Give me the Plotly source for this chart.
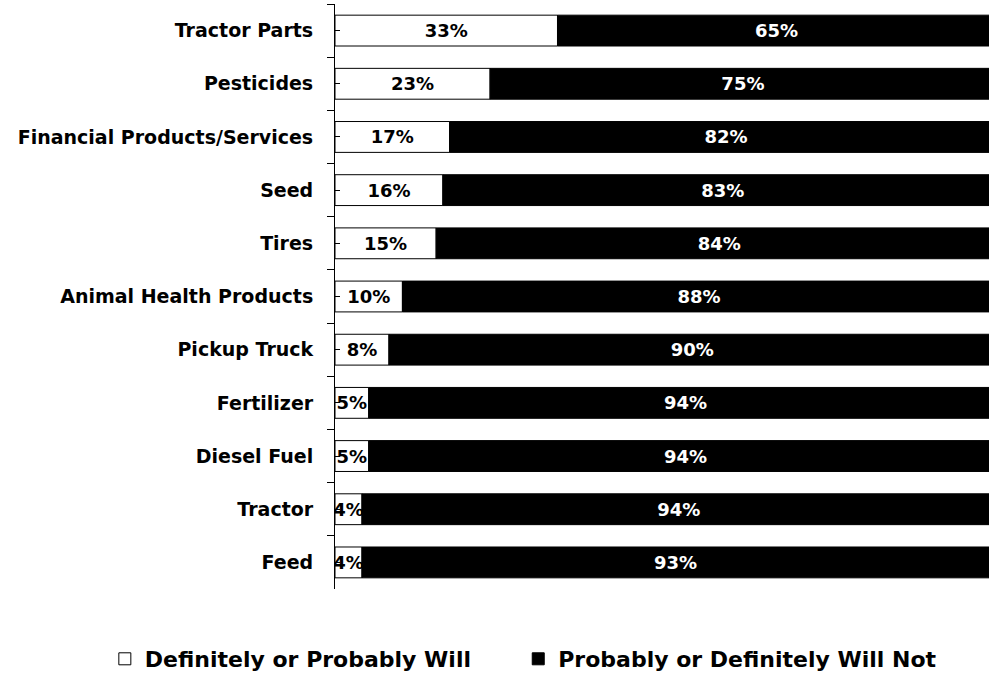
import plotly.graph_objects as go

# Purchase intentions by product category
categories = [
    "Tractor Parts",
    "Pesticides",
    "Financial Products/Services",
    "Seed",
    "Tires",
    "Animal Health Products",
    "Pickup Truck",
    "Fertilizer",
    "Diesel Fuel",
    "Tractor",
    "Feed",
]
will = [33, 23, 17, 16, 15, 10, 8, 5, 5, 4, 4]
will_not = [65, 75, 82, 83, 84, 88, 90, 94, 94, 94, 93]

series_names = ["Definitely or Probably Will", "Probably or Definitely Will Not"]

LABEL_FONT = "DejaVu Sans"

fig = go.Figure()

# "Will" segment on the primary y axis
fig.add_trace(go.Bar(
    y=categories,
    x=will,
    orientation="h",
    name=series_names[0],
    marker=dict(color="white", line=dict(color="black", width=1)),
    text=[f"{v}%" for v in will],
    textposition="inside",
    insidetextanchor="middle",
    textangle=0,
    constraintext="none",
    textfont=dict(family=LABEL_FONT, size=18, color="black", weight="bold"),
    yaxis="y",
    legend="legend",
))

# "Will not" segment starts where the "will" segment ends; drawn on the
# overlaying axis so it sits on top of the first segment
fig.add_trace(go.Bar(
    y=categories,
    x=will_not,
    base=will,
    orientation="h",
    name=series_names[1],
    marker=dict(color="black", line=dict(color="black", width=1)),
    text=[f"{v}%" for v in will_not],
    textposition="inside",
    insidetextanchor="middle",
    textangle=0,
    constraintext="none",
    textfont=dict(family=LABEL_FONT, size=18, color="white", weight="bold"),
    yaxis="y2",
    legend="legend2",
))

cat_axis = dict(
    type="category",
    categoryorder="array",
    categoryarray=categories,
    autorange="reversed",
    showgrid=False,
    zeroline=False,
)

legend_style = dict(
    orientation="h",
    xref="container",
    yref="container",
    xanchor="left",
    y=1 - 659 / 677,
    yanchor="middle",
    font=dict(family=LABEL_FONT, size=22, color="black", weight="bold"),
    bgcolor="rgba(0,0,0,0)",
)

fig.update_layout(
    width=989,
    height=677,
    barmode="overlay",
    bargap=0.42,
    plot_bgcolor="white",
    paper_bgcolor="white",
    margin=dict(l=335, r=0, t=4, b=88),
    showlegend=True,
    legend=dict(**legend_style, x=0.106),
    legend2=dict(**legend_style, x=0.524),
    xaxis=dict(
        range=[0, 97],
        showgrid=False,
        zeroline=False,
        showline=False,
        showticklabels=False,
        ticks="",
        fixedrange=True,
    ),
    yaxis=dict(
        **cat_axis,
        showline=True,
        linecolor="black",
        linewidth=1,
        ticks="outside",
        tickson="boundaries",
        ticklen=7,
        tickcolor="black",
        tickwidth=1,
        ticklabelstandoff=17,
        tickfont=dict(family=LABEL_FONT, size=19, color="black", weight="bold"),
    ),
    # Short inward ticks at each category centre
    yaxis2=dict(
        **cat_axis,
        overlaying="y",
        side="left",
        anchor="x",
        ticks="inside",
        tickson="labels",
        ticklen=5,
        tickcolor="black",
        tickwidth=1,
        showticklabels=False,
        showline=False,
    ),
)

fig.write_html("out.html")
